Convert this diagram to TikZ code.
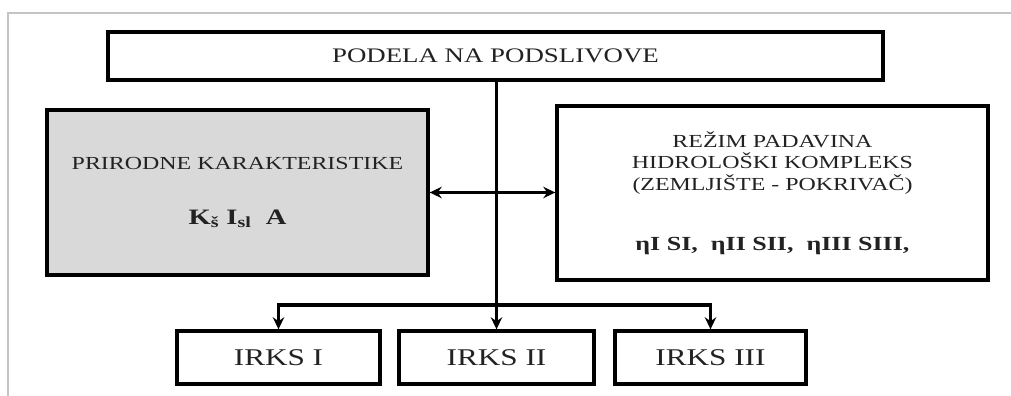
\documentclass[tikz,border=0pt]{standalone}
\usepackage{fontspec}
\setmainfont{Liberation Serif}[FakeStretch=1.3]
\usetikzlibrary{arrows.meta,positioning}
\definecolor{siva}{HTML}{D9D9D9}
\definecolor{okvir}{HTML}{C4C4C4}
\definecolor{tekst}{HTML}{222222}
\tikzset{box/.style={draw=black,line width=2.5pt,inner sep=0pt,align=center,text=tekst},flow/.style={-{Stealth[length=9pt,width=8.5pt]},line width=2.4pt},srednji/.style={font=\fontsize{13.8}{16.1}\selectfont},irks/.style={box,minimum height=39.75pt,font=\fontsize{18}{21}\selectfont}}

\begin{document}
\begin{tikzpicture}[x=0.75pt,y=-0.75pt]
\useasboundingbox (0,0) rectangle (1011,396);
\draw[okvir,line width=2pt] (1011,13)--(8,13)--(8,396);
\node[box,minimum width=581.25pt,minimum height=36pt,font=\fontsize{15.5}{18}\selectfont] (podela) at (495.5,56) {PODELA NA PODSLIVOVE};
\node[box,srednji,fill=siva,minimum width=285.75pt,minimum height=123.75pt] (prirodne) at (237.5,192.5) {PRIRODNE KARAKTERISTIKE\\[25.5pt]{\fontsize{16.5}{19}\selectfont\bfseries K\textsubscript{š} I\textsubscript{sl}\ \ A}};
\node[box,srednji,minimum width=323.25pt,minimum height=130.5pt] (rezim) at (772.5,193) {REŽIM PADAVINA\\HIDROLOŠKI KOMPLEKS\\(ZEMLJIŠTE - POKRIVAČ)\\[29pt]{\fontsize{15}{19}\selectfont\bfseries ηI SI,\ \ ηII SII,\ \ ηIII SIII,}};
\node[irks,minimum width=152.25pt] (irks1) at (278.5,357.5) {IRKS I};
\node[irks,minimum width=146.25pt] (irks2) at (496.5,357.5) {IRKS II};
\node[irks,minimum width=143.25pt] (irks3) at (710.5,357.5) {IRKS III};
\coordinate (grana) at (496,305);
\draw[flow] (podela.south -| irks2.north) -- (irks2.north);
\draw[flow] (grana) -| (irks1);
\draw[flow] (grana) -| (irks3);
\draw[flow,{Stealth[length=9pt,width=8.5pt]}-{Stealth[length=9pt,width=8.5pt]}] (prirodne.east) -- (prirodne.east -| rezim.west);
\end{tikzpicture}
\end{document}
